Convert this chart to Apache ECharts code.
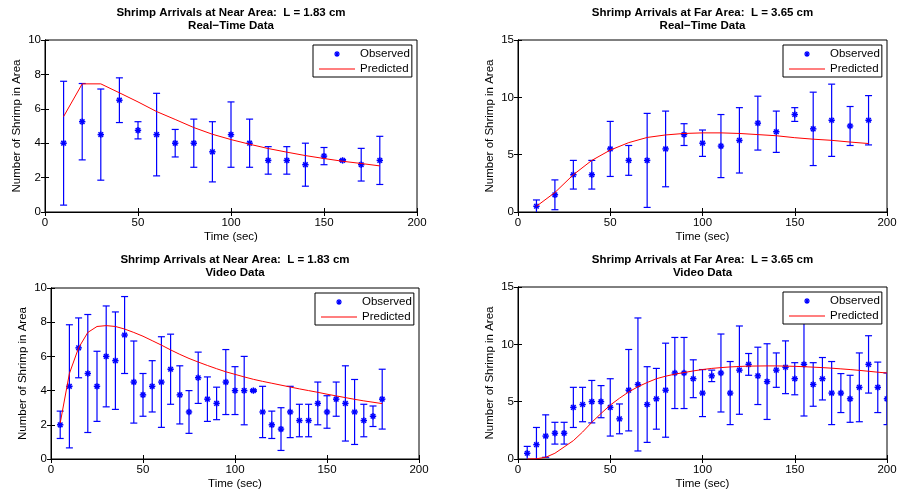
<!DOCTYPE html>
<html>
<head>
<meta charset="utf-8">
<script src="https://cdn.jsdelivr.net/npm/echarts@6/dist/echarts.min.js"></script>
<style>
html,body{margin:0;padding:0;background:#fff}
#chart{width:903px;height:491px}
</style>
</head>
<body>
<div id="chart"></div>
<script>
// Real-time data, near area (L = 1.83 cm)
var rtNearTime = [10,20,30,40,50,60,70,80,90,100,110,120,130,140,150,160,170,180];
var rtNearMean = [4,5.25,4.5,6.5,4.75,4.5,4,4,3.5,4.5,4,3,3,2.75,3.25,3,2.75,3];
var rtNearErr  = [3.6,2.22,2.65,1.3,0.5,2.4,0.8,1.4,1.75,1.9,1.4,0.8,0.8,1.25,0.5,0.05,0.95,1.4];
var rtNearModel = [5.55,7.45,7.45,6.93,6.4,5.84,5.38,4.91,4.52,4.21,3.94,3.69,3.48,3.28,3.11,2.95,2.82,2.68];

// Real-time data, far area (L = 3.65 cm)
var rtFarTime = [10,20,30,40,50,60,70,80,90,100,110,120,130,140,150,160,170,180,190];
var rtFarMean = [0.5,1.5,3.25,3.25,5.5,4.5,4.5,5.5,6.75,6,5.75,6.25,7.75,7,8.5,7.25,8,7.5,8];
var rtFarErr  = [0.55,1.3,1.25,1.25,2.4,1.3,4.1,3.3,0.95,1.15,2.75,2.85,2.35,1.8,0.6,3.2,3.15,1.7,2.15];
var rtFarModel = [0.5,1.7,3.25,4.5,5.4,6.05,6.5,6.72,6.85,6.9,6.9,6.85,6.75,6.65,6.48,6.35,6.25,6.1,5.97];

// Video data, near area
var vidNearTime = [5,10,15,20,25,30,35,40,45,50,55,60,65,70,75,80,85,90,95,100,105,110,115,120,125,130,135,140,145,150,155,160,165,170,175,180];
var vidNearMean = [2,4.25,6.5,5,4.25,6,5.75,7.25,4.5,3.75,4.25,4.5,5.25,3.75,2.75,4.75,3.5,3.25,4.5,4,4,4,2.75,2,1.75,2.75,2.25,2.25,3.25,2.75,3.5,3.25,2.75,2.25,2.5,3.5];
var vidNearErr  = [0.8,3.6,1.75,3.45,2.05,2.95,2.85,2.25,2.4,1.25,1.5,2.65,2.05,1.7,1.25,1.5,1.3,0.95,1.9,1.4,2.0,0.05,1.5,0.8,1.25,1.5,0.95,0.95,1.25,0.95,1.0,2.2,1.9,0.95,0.6,1.75];
var vidNearModel = [2.1,5.0,6.5,7.4,7.75,7.8,7.75,7.6,7.4,7.18,6.92,6.66,6.38,6.12,5.88,5.67,5.47,5.28,5.1,4.95,4.8,4.66,4.54,4.43,4.32,4.21,4.1,4.0,3.9,3.79,3.69,3.59,3.49,3.4,3.32,3.24];

// Video data, far area
var vidFarTime = [5,10,15,20,25,30,35,40,45,50,55,60,65,70,75,80,85,90,95,100,105,110,115,120,125,130,135,140,145,150,155,160,165,170,175,180,185,190,195,200];
var vidFarMean = [0.5,1.25,2,2.25,2.25,4.5,4.75,5,5,4.5,3.5,6,6.5,4.75,5.25,6,7.5,7.5,7,5.75,7.25,7.5,5.75,7.75,8.25,7.25,6.75,7.75,8,7,8.25,6.5,7,5.75,5.75,5.25,6.25,8.25,6.25,5.25];
var vidFarErr  = [0.6,1.5,1.85,0.95,0.95,1.75,1.5,1.85,1.4,2.5,1.3,3.55,5.8,3.3,2.65,4.1,3.1,3.1,1.65,2.05,0.5,3.4,2.75,3.85,0.95,2.5,3.3,1.5,2.3,1.4,4.5,1.9,1.85,2.75,1.7,2.05,3.0,2.5,2.2,2.25];
var vidFarModel = [0,0.02,0.15,0.5,1.05,1.6,2.35,3.2,3.97,4.7,5.3,5.85,6.3,6.67,7.0,7.22,7.4,7.54,7.68,7.8,7.9,7.97,8.03,8.07,8.1,8.11,8.12,8.12,8.1,8.08,8.05,8.01,7.97,7.92,7.86,7.8,7.73,7.65,7.57,7.5];

var titles = ['Shrimp Arrivals at Near Area:  L = 1.83 cm', 'Shrimp Arrivals at Far Area:  L = 3.65 cm',
              'Shrimp Arrivals at Near Area:  L = 1.83 cm', 'Shrimp Arrivals at Far Area:  L = 3.65 cm'];
var subtitles = ['Real\u2212Time Data', 'Real\u2212Time Data', 'Video Data', 'Video Data'];
var yMax = [10, 15, 10, 15];
var yStep = [2, 5, 2, 5];

var FONT = 'Liberation Sans, Arial, Helvetica, sans-serif';

var panels = [
    {time: rtNearTime, mean: rtNearMean, err: rtNearErr, model: rtNearModel},
    {time: rtFarTime, mean: rtFarMean, err: rtFarErr, model: rtFarModel},
    {time: vidNearTime, mean: vidNearMean, err: vidNearErr, model: vidNearModel},
    {time: vidFarTime, mean: vidFarMean, err: vidFarErr, model: vidFarModel}
];
// grid boxes (left, top, width, height)
var boxes = [[45,40,372,172],[518,40,369,172],[51,288,368,172],[518,287,369,172]];

// legend icons, both 36 x 10 so they are not stretched
var corners = 'M0,0h0.01v0.01h-0.01z M35.99,9.99h0.01v0.01h-0.01z ';
var starIcon = 'path://' + corners +
    'M15,4.4h6v1.2h-6z M17.4,2h1.2v6h-1.2z ' +
    'M15.6,3.4L16.4,2.6L20.4,6.6L19.6,7.4z M19.6,2.6L20.4,3.4L16.4,7.4L15.6,6.6z';
var lineIcon = 'path://' + corners + 'M0,4.5h36v1h-36z';

function seg(x1, y1, x2, y2, w) {
    return {type: 'line', shape: {x1: x1, y1: y1, x2: x2, y2: y2},
            style: {stroke: '#0000ff', lineWidth: w}};
}

// errorbar with asterisk marker
function renderErr(params, api) {
    var x = api.value(0), y = api.value(1), e = api.value(2);
    var t = api.coord([x, y + e]);
    var b = api.coord([x, y - e]);
    var m = api.coord([x, y]);
    var cap = 3.5, r = 3.2, d = 2.3;
    return {type: 'group', children: [
        seg(t[0], t[1], b[0], b[1], 1.2),
        seg(t[0] - cap, t[1], t[0] + cap, t[1], 1.2),
        seg(b[0] - cap, b[1], b[0] + cap, b[1], 1.2),
        seg(m[0] - r, m[1], m[0] + r, m[1], 1.5),
        seg(m[0], m[1] - r, m[0], m[1] + r, 1.5),
        seg(m[0] - d, m[1] - d, m[0] + d, m[1] + d, 1.5),
        seg(m[0] - d, m[1] + d, m[0] + d, m[1] - d, 1.5)
    ]};
}

var option = {
    animation: false,
    backgroundColor: '#fff',
    textStyle: {fontFamily: FONT},
    title: [], grid: [], xAxis: [], yAxis: [], legend: [], series: []
};

for (var i = 0; i < 4; i++) {
    var bx = boxes[i], p = panels[i];
    option.title.push({
        text: titles[i], subtext: subtitles[i],
        left: bx[0] + bx[2] / 2, top: i < 2 ? 7 : 254, textAlign: 'center',
        padding: 0, itemGap: 1,
        textStyle: {fontFamily: FONT, fontSize: 11.5, fontWeight: 'bold', color: '#000'},
        subtextStyle: {fontFamily: FONT, fontSize: 11.5, fontWeight: 'bold', color: '#000'}
    });
    option.grid.push({left: bx[0], top: bx[1], width: bx[2], height: bx[3],
        show: true, borderColor: '#000', borderWidth: 1, backgroundColor: '#fff'});
    var tick = {show: true, inside: true, length: 4, lineStyle: {color: '#000'}};
    var line = {show: true, lineStyle: {color: '#000', width: 1}};
    option.xAxis.push({
        type: 'value', gridIndex: i, min: 0, max: 200, interval: 50,
        axisLine: line, axisTick: tick, splitLine: {show: false},
        axisLabel: {color: '#000', fontSize: 11.5, margin: 5, fontFamily: FONT},
        name: 'Time (sec)', nameLocation: 'middle', nameGap: 19,
        nameTextStyle: {color: '#000', fontSize: 11.5, fontFamily: FONT}
    });
    option.xAxis.push({
        type: 'value', gridIndex: i, min: 0, max: 200, interval: 50, position: 'top',
        axisLine: line, axisTick: tick, splitLine: {show: false}, axisLabel: {show: false}
    });
    option.yAxis.push({
        type: 'value', gridIndex: i, min: 0, max: yMax[i], interval: yStep[i],
        axisLine: line, axisTick: tick, splitLine: {show: false},
        axisLabel: {color: '#000', fontSize: 11.5, margin: 4, fontFamily: FONT},
        name: 'Number of Shrimp in Area', nameLocation: 'middle', nameGap: 22,
        nameTextStyle: {color: '#000', fontSize: 11.5, fontFamily: FONT}
    });
    option.yAxis.push({
        type: 'value', gridIndex: i, min: 0, max: yMax[i], interval: yStep[i], position: 'right',
        axisLine: line, axisTick: tick, splitLine: {show: false}, axisLabel: {show: false}
    });

    var obs = [], pred = [];
    for (var k = 0; k < p.time.length; k++) {
        obs.push([p.time[k], p.mean[k], p.err[k]]);
        pred.push([p.time[k], p.model[k]]);
    }
    option.series.push({
        name: 'Observed', type: 'custom', xAxisIndex: 2 * i, yAxisIndex: 2 * i,
        renderItem: renderErr, data: obs, clip: true,
        itemStyle: {color: '#0000ff'}, encode: {x: 0, y: 1}
    });
    option.series.push({
        name: 'Predicted', type: 'line', xAxisIndex: 2 * i, yAxisIndex: 2 * i,
        data: pred, showSymbol: false, symbol: 'none', clip: true,
        lineStyle: {color: '#ff0000', width: 1}, itemStyle: {color: '#ff0000'}
    });

    option.legend.push({
        left: bx[0] + bx[2] - 104, top: i < 2 ? 45 : bx[1] + 5,
        orient: 'vertical', padding: [2, 2, 1, 6], itemGap: 1,
        itemWidth: 36, itemHeight: 10,
        backgroundColor: '#fff', borderColor: '#000', borderWidth: 1, borderRadius: 0,
        textStyle: {color: '#000', fontSize: 11.5, fontFamily: FONT, lineHeight: 14},
        selectedMode: false,
        data: [
            {name: 'Observed', icon: starIcon, itemStyle: {color: '#0000ff', borderWidth: 0}},
            {name: 'Predicted', icon: lineIcon, itemStyle: {color: '#ff0000', borderWidth: 0}}
        ]
    });
}

var chart = echarts.init(document.getElementById('chart'));
chart.setOption(option);
</script>
</body>
</html>
